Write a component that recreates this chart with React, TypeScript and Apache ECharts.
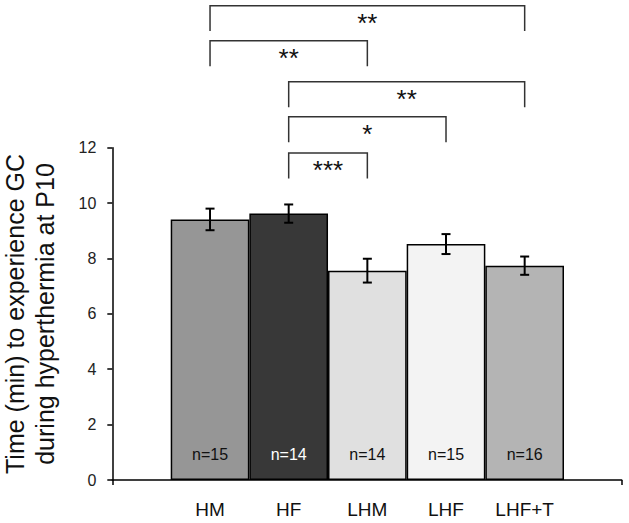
import React, { useEffect, useRef } from "react";
import * as echarts from "echarts";

// ---- data ----
const categories = ["HM", "HF", "LHM", "LHF", "LHF+T"];
const means = [9.41, 9.62, 7.56, 8.52, 7.74];
const sems = [0.39, 0.33, 0.43, 0.36, 0.33];
const nCounts = [15, 14, 14, 15, 16];
const barColors = ["#969696", "#383838", "#e0e0e0", "#f3f3f3", "#b4b4b4"];
const nLabelColors = ["#111111", "#ffffff", "#111111", "#111111", "#111111"];
const yTicks = { min: 0, max: 12, interval: 2 };
const yTitle = "Time (min) to experience GC\nduring hyperthermia at P10";
// significance brackets: [from index, to index, top (y units), stars]
const bracketFrom = [0, 0, 1, 1, 1];
const bracketTo = [4, 2, 4, 3, 2];
const bracketTop = [17.13, 15.86, 14.38, 13.12, 11.81];
const bracketStars = ["**", "**", "**", "*", "***"];

const BRACKET_DROP = 0.92; // y units
const STAR_OFFSET_PX = 17;
const CAP_HALF = 4.5;

export default function App() {
  const ref = useRef<HTMLDivElement>(null);
  useEffect(() => {
    if (!ref.current) return;
    const chart = echarts.init(ref.current, undefined, { renderer: "svg" });
    const font = "'Liberation Sans', Arial, sans-serif";
    const option: any = {
      animation: false,
      backgroundColor: "#ffffff",
      textStyle: { fontFamily: font },
      grid: [
        { left: 112.3, right: 7.3, top: 147.7, bottom: 43, containLabel: false },
        { left: 170.7, right: 65, top: 147.7, bottom: 43, containLabel: false },
      ],
      graphic: [
        {
          type: "text",
          x: 30,
          y: 314,
          rotation: Math.PI / 2,
          style: {
            text: yTitle,
            fontSize: 25,
            lineHeight: 30,
            fontFamily: font,
            fill: "#111",
            align: "center",
            verticalAlign: "middle",
          },
        },
      ],
      xAxis: [
        {
          gridIndex: 0,
          type: "value",
          min: 0,
          max: 1,
          interval: 1,
          axisLine: { show: true, lineStyle: { color: "#000", width: 1.5 } },
          axisTick: { show: true, length: 5, lineStyle: { color: "#000", width: 1.5 } },
          axisLabel: { show: false },
          splitLine: { show: false },
        },
        {
          gridIndex: 1,
          type: "category",
          data: categories,
          axisLine: { show: false },
          axisTick: { show: false },
          axisLabel: { fontSize: 19, color: "#111", margin: 20, fontFamily: font },
        },
      ],
      yAxis: [
        {
          gridIndex: 0,
          type: "value",
          min: yTicks.min,
          max: yTicks.max,
          interval: yTicks.interval,
          axisLine: { show: true, lineStyle: { color: "#000", width: 1.5 } },
          axisTick: { show: true, length: 5, lineStyle: { color: "#000", width: 1.5 } },
          axisLabel: { fontSize: 16, color: "#222", margin: 16, fontFamily: font },
          splitLine: { show: false },
        },
        {
          gridIndex: 1,
          type: "value",
          min: yTicks.min,
          max: yTicks.max,
          show: false,
        },
      ],
      series: [
        {
          type: "bar",
          xAxisIndex: 1,
          yAxisIndex: 1,
          barWidth: "100%",
          barCategoryGap: 0,
          data: means.map((v, i) => ({
            value: v,
            itemStyle: { color: barColors[i], borderColor: "#000", borderWidth: 1.5 },
            label: {
              show: true,
              position: "insideBottom",
              distance: 18,
              formatter: "n=" + nCounts[i],
              color: nLabelColors[i],
              fontSize: 16,
              fontFamily: font,
            },
          })),
        },
        {
          type: "custom",
          xAxisIndex: 1,
          yAxisIndex: 1,
          data: means.map((m, i) => [i, m, sems[i]]),
          renderItem: (params: any, api: any) => {
            const i = api.value(0);
            const m = api.value(1);
            const s = api.value(2);
            const top = api.coord([i, m + s]);
            const bot = api.coord([i, m - s]);
            const st = { stroke: "#000", lineWidth: 2 };
            return {
              type: "group",
              children: [
                { type: "line", shape: { x1: top[0], y1: top[1], x2: bot[0], y2: bot[1] }, style: st },
                { type: "line", shape: { x1: top[0] - CAP_HALF, y1: top[1], x2: top[0] + CAP_HALF, y2: top[1] }, style: st },
                { type: "line", shape: { x1: bot[0] - CAP_HALF, y1: bot[1], x2: bot[0] + CAP_HALF, y2: bot[1] }, style: st },
              ],
            };
          },
          z: 5,
        },
        {
          type: "custom",
          xAxisIndex: 1,
          yAxisIndex: 1,
          clip: false,
          data: bracketTop.map((t, k) => [bracketFrom[k], bracketTo[k], t, k]),
          renderItem: (params: any, api: any) => {
            const a = api.value(0);
            const b = api.value(1);
            const t = api.value(2);
            const k = api.value(3);
            const pa = api.coord([a, t]);
            const pb = api.coord([b, t]);
            const pa2 = api.coord([a, t - BRACKET_DROP]);
            const pb2 = api.coord([b, t - BRACKET_DROP]);
            return {
              type: "group",
              children: [
                {
                  type: "polyline",
                  shape: { points: [[pa2[0], pa2[1]], [pa[0], pa[1]], [pb[0], pb[1]], [pb2[0], pb2[1]]] },
                  style: { stroke: "#333", lineWidth: 1.5, fill: "none" },
                },
                {
                  type: "text",
                  x: (pa[0] + pb[0]) / 2,
                  y: pa[1] + STAR_OFFSET_PX,
                  style: {
                    text: bracketStars[k],
                    fontSize: 26,
                    fontFamily: font,
                    fill: "#111",
                    align: "center",
                    verticalAlign: "middle",
                  },
                },
              ],
            };
          },
        },
      ],
    };
    chart.setOption(option);
    return () => chart.dispose();
  }, []);
  return (
    <div
      ref={ref}
      style={{ position: "fixed", left: 0, top: 0, width: 629, height: 523, background: "#fff" }}
    />
  );
}
